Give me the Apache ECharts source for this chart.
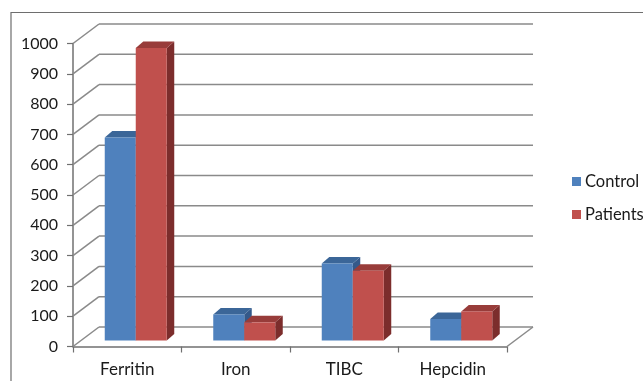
<!DOCTYPE html>
<html>
<head>
<meta charset="utf-8">
<script src="https://cdn.jsdelivr.net/npm/echarts@6/dist/echarts.min.js"></script>
<style>
  html, body { margin: 0; padding: 0; background: #fff; }
  #chart { width: 643px; height: 381px; }
</style>
</head>
<body>
<div id="chart"></div>
<script>
// Chart data
const categories = ['Ferritin', 'Iron', 'TIBC', 'Hepcidin'];
const control = [670, 86, 254, 71];
const patients = [965, 60, 230, 96];
const yTickValues = [0, 100, 200, 300, 400, 500, 600, 700, 800, 900, 1000];

// Oblique 3D look: wall depth and bar placement offsets (pixels)
const WALL_DEPTH = [26, -19.5];
const BAR_OFF = [8.5, -6];
const BAR_DEPTH = [7.5, -6.5];
const BAR_RATIO = 0.2857;
const GRID_COLOR = '#8a8a8a';
const FONT = 'Lato, "Open Sans", sans-serif';

function wallRender(params, api) {
  const cs = params.coordSys;
  const v = api.value(1);
  const y = api.coord([0, v])[1];
  const left = cs.x, right = cs.x + cs.width;
  const [dx, dy] = WALL_DEPTH;
  const style = { stroke: GRID_COLOR, lineWidth: 1.5, fill: null };
  const children = [
    { type: 'line', shape: { x1: left, y1: y, x2: left + dx, y2: y + dy }, style },
    { type: 'line', shape: { x1: left + dx, y1: y + dy, x2: right + dx, y2: y + dy }, style }
  ];
  if (v === 0) {
    children.push({ type: 'line', shape: { x1: right, y1: y, x2: right + dx, y2: y + dy }, style });
  }
  return { type: 'group', children };
}

function barRender(slot, front, top, side) {
  return function (params, api) {
    const ci = api.value(0), v = api.value(1);
    const base = api.coord([ci, 0]);
    const peak = api.coord([ci, v]);
    const band = api.size([1, 0])[0];
    const w = band * BAR_RATIO;
    const x0 = base[0] - w + slot * w + BAR_OFF[0];
    const yb = base[1] + BAR_OFF[1];
    const yt = peak[1] + BAR_OFF[1];
    const [dx, dy] = BAR_DEPTH;
    return {
      type: 'group',
      children: [
        { type: 'polygon', shape: { points: [[x0 + w, yb], [x0 + w + dx, yb + dy], [x0 + w + dx, yt + dy], [x0 + w, yt]] },
          style: { fill: side } },
        { type: 'polygon', shape: { points: [[x0, yt], [x0 + dx, yt + dy], [x0 + w + dx, yt + dy], [x0 + w, yt]] },
          style: { fill: top } },
        { type: 'rect', shape: { x: x0, y: yt, width: w, height: yb - yt }, style: { fill: front } }
      ]
    };
  };
}

const chart = echarts.init(document.getElementById('chart'), null, { renderer: 'canvas' });
chart.setOption({
  animation: false,
  backgroundColor: '#ffffff',
  graphic: [{
    type: 'rect', z: -10,
    shape: { x: 11, y: 12.5, width: 700, height: 420 },
    style: { fill: null, stroke: '#6e6e6e', lineWidth: 1.2 }
  }],
  grid: { left: 73, right: 136, top: 43.5, bottom: 34.5 },
  legend: {
    orient: 'vertical',
    left: 572, top: 173, padding: 0,
    itemWidth: 9, itemHeight: 9, itemGap: 16,
    icon: 'rect',
    textStyle: { fontFamily: FONT, fontSize: 16.5, color: '#1a1a1a', padding: [0, 0, 0, -1] },
    data: ['Control', 'Patients']
  },
  xAxis: {
    type: 'category',
    data: categories,
    boundaryGap: true,
    axisLine: { lineStyle: { color: '#707070', width: 1.5 } },
    axisTick: { show: true, length: 6, lineStyle: { color: '#707070', width: 1.2 } },
    axisLabel: { fontFamily: FONT, fontSize: 17, color: '#1a1a1a', margin: 15 },
    splitLine: { show: false }
  },
  yAxis: {
    type: 'value',
    min: 0, max: 1000, interval: 100,
    axisLine: { show: true, lineStyle: { color: '#707070', width: 1.5 } },
    axisTick: { show: true, length: 6, lineStyle: { color: '#707070', width: 1.2 } },
    axisLabel: { fontFamily: FONT, fontSize: 16, color: '#1a1a1a', margin: 15,
                 formatter: v => String(v) },
    splitLine: { show: false }
  },
  series: [
    {
      name: 'wall', type: 'custom', silent: true, z: 1,
      renderItem: wallRender,
      encode: { x: 0, y: 1 },
      data: yTickValues.map(v => [0, v]),
      clip: false
    },
    {
      name: 'Control', type: 'custom', z: 2,
      itemStyle: { color: '#4f81bd' },
      renderItem: barRender(0, '#4f81bd', '#3b6698', '#34598a'),
      encode: { x: 0, y: 1 },
      data: categories.map((c, i) => [i, control[i]]),
      clip: false
    },
    {
      name: 'Patients', type: 'custom', z: 2,
      itemStyle: { color: '#c0504d' },
      renderItem: barRender(1, '#c0504d', '#983c3a', '#7c2d2c'),
      encode: { x: 0, y: 1 },
      data: categories.map((c, i) => [i, patients[i]]),
      clip: false
    }
  ]
});
</script>
</body>
</html>
